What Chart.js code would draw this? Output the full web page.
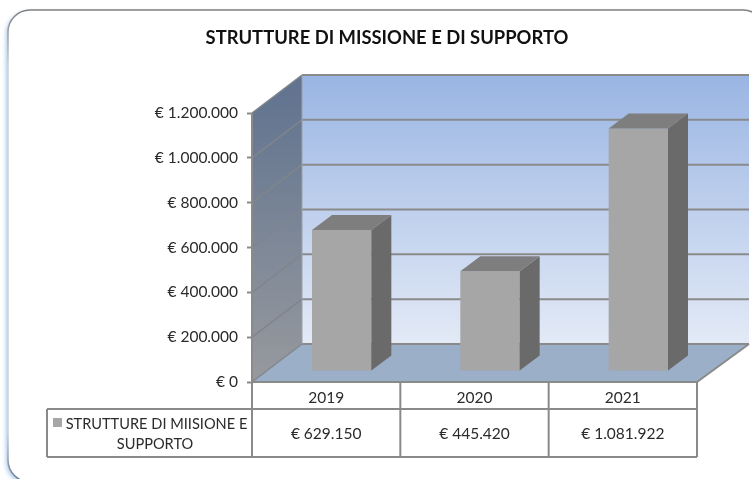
<!DOCTYPE html>
<html>
<head>
<meta charset="utf-8">
<style>
  html, body { margin: 0; padding: 0; background: #fff; overflow: hidden; }
  canvas { display: block; }
</style>
<script src="https://cdn.jsdelivr.net/npm/chart.js@4"></script>
</head>
<body>
<canvas id="myChart" width="752" height="479"></canvas>
<script>
const chartTitle = 'STRUTTURE DI MISSIONE E DI SUPPORTO';
const years = ['2019', '2020', '2021'];
const seriesName = ['STRUTTURE DI MIISIONE E', 'SUPPORTO'];
const seriesValues = [629150, 445420, 1081922];
const axisMax = 1200000;
const axisStep = 200000;

const fontName = 'Lato, "Open Sans", sans-serif';
const lineGrey = '#8a8a8a';
const textColor = '#2b2b2b';

// depth of the box, and how far the bars stand inside it
const depth = { x: 50, y: -38 };
const barShift = { x: 15.5, y: -11 };
const barDepth = { x: 20, y: -15 };

const euro = (v) => '€ ' + String(v).replace(/\B(?=(\d{3})+$)/g, '.');

const poly = (ctx, pts, fill) => {
    ctx.beginPath();
    pts.forEach((p, i) => i ? ctx.lineTo(p[0], p[1]) : ctx.moveTo(p[0], p[1]));
    ctx.closePath();
    ctx.fillStyle = fill;
    ctx.fill();
};

const line = (ctx, pts, color, width) => {
    ctx.beginPath();
    pts.forEach((p, i) => i ? ctx.lineTo(p[0], p[1]) : ctx.moveTo(p[0], p[1]));
    ctx.strokeStyle = color;
    ctx.lineWidth = width;
    ctx.stroke();
};

const framePlugin = {
    id: 'frame',
    beforeDraw(chart) {
        const ctx = chart.ctx;
        ctx.save();
        ctx.beginPath();
        ctx.roundRect(8, 10, 757, 472, 22);
        ctx.shadowColor = 'rgba(120, 165, 220, 0.6)';
        ctx.shadowBlur = 4;
        ctx.shadowOffsetX = -2;
        ctx.shadowOffsetY = 2;
        ctx.fillStyle = '#fff';
        ctx.fill();
        ctx.shadowColor = 'transparent';
        const g = ctx.createLinearGradient(0, 10, 0, 479);
        g.addColorStop(0, '#7f7f7f');
        g.addColorStop(0.12, '#c9d2de');
        g.addColorStop(0.9, '#c9d2de');
        g.addColorStop(1, '#6d7f98');
        ctx.strokeStyle = g;
        ctx.lineWidth = 1.5;
        ctx.stroke();
        ctx.restore();
    }
};

const boxPlugin = {
    id: 'box',
    beforeDraw(chart) {
        const ctx = chart.ctx;
        const { left, right, top, bottom } = chart.chartArea;
        const backL = left + depth.x;
        const backR = right + 52;
        const backT = top + depth.y;
        const backB = bottom + depth.y;

        let g = ctx.createLinearGradient(0, backT, 0, backB);
        g.addColorStop(0, '#9ab5e3');
        g.addColorStop(1, '#e3eaf6');
        poly(ctx, [[backL, backT], [backR, backT], [backR, backB], [backL, backB]], g);

        g = ctx.createLinearGradient(0, top - 20, 0, bottom);
        g.addColorStop(0, '#627490');
        g.addColorStop(1, '#979a9e');
        poly(ctx, [[left, top], [backL, backT], [backL, backB], [left, bottom]], g);

        poly(ctx, [[left, bottom], [backL, backB], [backR, backB], [right, bottom]], '#9bafc9');

        const y = chart.scales.y;
        y.ticks.forEach((t) => {
            const py = y.getPixelForValue(t.value);
            line(ctx, [[left, py], [backL, py + depth.y]], '#80858c', 1.4);
            line(ctx, [[backL, py + depth.y], [backR, py + depth.y]], lineGrey, 2);
        });
        line(ctx, [[backL, backT], [backL, backB]], '#9a9fa8', 1);
        line(ctx, [[left, top], [left, bottom]], lineGrey, 2);
    },
    beforeDatasetsDraw(chart) {
        chart.ctx.save();
        chart.ctx.translate(barShift.x, barShift.y);
    },
    afterDatasetsDraw(chart) {
        const ctx = chart.ctx;
        ctx.restore();
        chart.getDatasetMeta(0).data.forEach((bar) => {
            const l = bar.x - bar.width / 2 + barShift.x;
            const r = bar.x + bar.width / 2 + barShift.x;
            const t = bar.y + barShift.y;
            const b = bar.base + barShift.y;
            poly(ctx, [[r, t], [r + barDepth.x, t + barDepth.y], [r + barDepth.x, b + barDepth.y], [r, b]], '#6a6a6a');
            poly(ctx, [[l, t], [l + barDepth.x, t + barDepth.y], [r + barDepth.x, t + barDepth.y], [r, t]], '#7e7e7e');
        });
    }
};

const tablePlugin = {
    id: 'dataTable',
    afterDraw(chart) {
        const ctx = chart.ctx;
        const x = chart.scales.x;
        const { left, right, bottom } = chart.chartArea;
        const tableL = 47;
        const row1 = 409;
        const row2 = 457;

        line(ctx, [[left, bottom], [right, bottom]], lineGrey, 2);
        line(ctx, [[right, bottom], [right + 52, bottom + depth.y]], lineGrey, 2);
        line(ctx, [[left, bottom], [left, row2]], lineGrey, 2);
        line(ctx, [[right, bottom], [right, row2]], lineGrey, 2);
        line(ctx, [[tableL, row1], [right, row1]], lineGrey, 2);
        line(ctx, [[tableL, row2], [right, row2]], lineGrey, 2);
        line(ctx, [[tableL, row1], [tableL, row2]], lineGrey, 2);

        ctx.save();
        ctx.fillStyle = textColor;
        ctx.textAlign = 'center';
        ctx.textBaseline = 'middle';
        ctx.font = '15.5px ' + fontName;
        seriesValues.forEach((v, i) => {
            const cx = x.getPixelForValue(i);
            if (i > 0) {
                const sep = (cx + x.getPixelForValue(i - 1)) / 2;
                line(ctx, [[sep, bottom], [sep, row2]], lineGrey, 2);
            }
            ctx.fillText(euro(v), cx, 434);
        });
        ctx.font = '14.6px ' + fontName;
        ctx.fillText(seriesName[0], 156.5, 424);
        ctx.fillText(seriesName[1], 155, 444);
        ctx.fillStyle = '#a6a6a6';
        ctx.fillRect(53, 418, 9, 9);
        ctx.restore();
    }
};

const initChart = () => {
    new Chart(document.getElementById('myChart'), {
        type: 'bar',
        data: {
            labels: years,
            datasets: [{
                label: seriesName.join(' '),
                data: seriesValues,
                backgroundColor: '#a6a6a6',
                borderWidth: 0,
                barPercentage: 1,
                categoryPercentage: 0.4
            }]
        },
        plugins: [framePlugin, boxPlugin, tablePlugin],
        options: {
            responsive: false,
            animation: false,
            layout: { padding: { left: 77, right: 55, top: 0, bottom: 70 } },
            plugins: {
                legend: { display: false },
                tooltip: { enabled: false },
                title: {
                    display: true,
                    text: chartTitle,
                    color: '#111',
                    font: { family: fontName, size: 18.4, weight: 'bold', lineHeight: 1.2 },
                    padding: { top: 27, bottom: 63.92 }
                }
            },
            scales: {
                x: {
                    afterFit: (axis) => { axis.height = 27; },
                    grid: { display: false, drawTicks: false },
                    border: { display: false },
                    ticks: { color: textColor, padding: 7, font: { family: fontName, size: 15.5 } }
                },
                y: {
                    min: 0,
                    max: axisMax,
                    afterFit: (axis) => { axis.width = 175; },
                    border: { display: false },
                    grid: { drawOnChartArea: false, tickLength: 5, tickWidth: 2, tickColor: lineGrey },
                    ticks: {
                        stepSize: axisStep,
                        color: textColor,
                        padding: 9,
                        font: { family: fontName, size: 15.5 },
                        callback: (v) => euro(v)
                    }
                }
            }
        }
    });
};

initChart();
</script>
</body>
</html>
